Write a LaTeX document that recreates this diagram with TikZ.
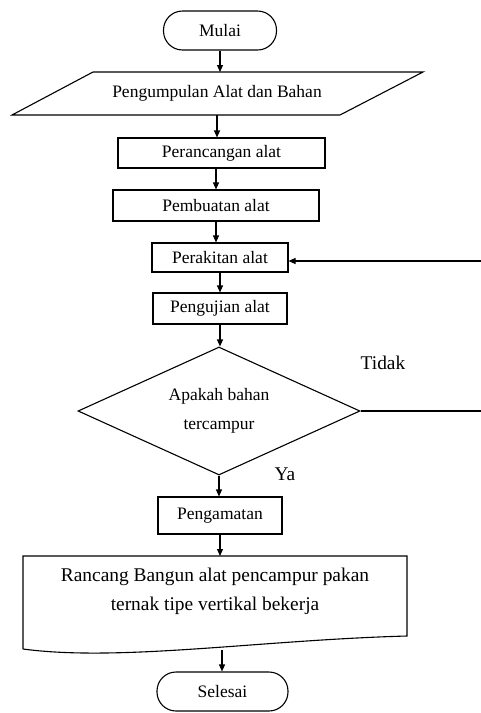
\documentclass[tikz,border=0pt]{standalone}
\usepackage{fontspec}
\setmainfont{Liberation Serif}
\usetikzlibrary{arrows.meta,shapes.geometric,calc}
\begin{document}
\begin{tikzpicture}[x=1pt,y=-1pt,
  line width=1.1pt,
  base/.style={draw, line width=1.1pt, inner sep=0pt, font=\fontsize{17.5}{29}\selectfont},
  procbox/.style={base, rectangle},
  term/.style={base, rectangle, rounded corners=19pt},
  arr/.style={-{Triangle[length=7pt,width=6pt]}, line width=1.1pt},
  smalltext/.style={font=\fontsize{17.5}{29}\selectfont, inner sep=0pt},
  bigtext/.style={font=\fontsize{19.4}{29}\selectfont, inner sep=0pt, align=center}]
\useasboundingbox (0,0) rectangle (481,713);
% nodes
\node[term, minimum width=113pt, minimum height=39pt] (mulai) at (220,30.5) {Mulai};
\coordinate (pabTL) at (93,72);
\coordinate (pabTR) at (423,72);
\coordinate (pabBR) at (340,115);
\coordinate (pabBL) at (12,115);
\draw (pabTL) -- (pabTR) -- (pabBR) -- (pabBL) -- cycle;
\node[smalltext] (pab) at (217,93.5) {Pengumpulan Alat dan Bahan};
\coordinate (pabT) at (220,72);
\coordinate (pabB) at (217,115);
\node[procbox, minimum width=207pt, minimum height=30pt] (perancangan) at (221.5,153) {Perancangan alat};
\node[procbox, minimum width=206pt, minimum height=31pt] (pembuatan) at (216,205.5) {Pembuatan alat};
\node[procbox, minimum width=136pt, minimum height=29pt] (perakitan) at (220,257.5) {Perakitan alat};
\node[procbox, minimum width=134pt, minimum height=31pt] (pengujian) at (220,308.5) {Pengujian alat};
\node[base, shape=diamond, aspect=2.2, minimum width=282pt, minimum height=128pt, align=center] (keputusan) at (219,411) {Apakah bahan\\tercampur};
\node[procbox, minimum width=124pt, minimum height=37pt] (pengamatan) at (220,515.5) {Pengamatan};
% document shape
\coordinate (docTL) at (23,556);
\coordinate (docTR) at (407,556);
\coordinate (docBR) at (407,636);
\coordinate (docBL) at (23,649);
\draw (docBL) -- (docTL) -- (docTR) -- (docBR) .. controls (260,640) and (120,662) .. (docBL);
\node[bigtext] (doc) at (215,591.5) {Rancang Bangun alat pencampur pakan\\ternak tipe vertikal bekerja};
\coordinate (docT) at (217,556);
\coordinate (docB) at (222,650);
\node[term, minimum width=131pt, minimum height=39pt] (selesai) at (222.5,691.5) {Selesai};
% labels
\node[bigtext] (tidak) at (383,363) {Tidak};
\node[bigtext] (ya) at (285,474) {Ya};
% connectors
\draw[arr] (mulai.south) -- (pabT);
\draw[arr] (pabB) -- (pabB |- perancangan.north);
\draw[arr] (perancangan.south -| pembuatan.north) -- (pembuatan.north);
\draw[arr] (pembuatan.south) -- (pembuatan.south |- perakitan.north);
\draw[arr] (perakitan.south) -- (pengujian.north);
\draw[arr] (pengujian.south) -- (pengujian.south |- keputusan.north);
\draw[arr] (keputusan.south) -- (keputusan.south |- pengamatan.north);
\draw[arr] (pengamatan.south) -- (pengamatan.south |- docT);
\draw[arr] (docB) -- (docB |- selesai.north);
\coordinate (rt) at (481,261);
\coordinate (rb) at (481,411);
\draw[arr] (rt) -- (rt -| perakitan.east);
\draw (keputusan.east) -- (rb);
\end{tikzpicture}
\end{document}
